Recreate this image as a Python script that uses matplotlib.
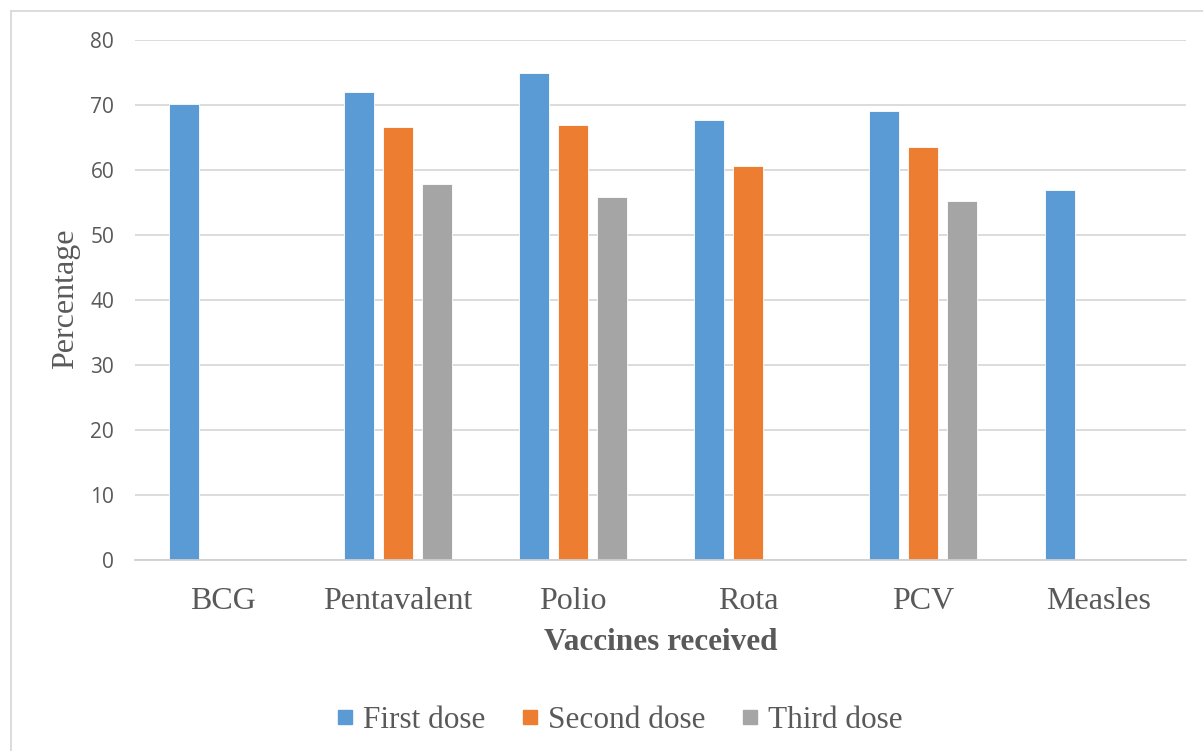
import matplotlib
matplotlib.use("Agg")
import matplotlib.pyplot as plt
import numpy as np
from matplotlib.lines import Line2D

categories = ["BCG", "Pentavalent", "Polio", "Rota", "PCV", "Measles"]
series_names = ["First dose", "Second dose", "Third dose"]
first_dose = [70.2, 72.1, 75.0, 67.7, 69.1, 57.0]
second_dose = [0, 66.6, 67.0, 60.6, 63.6, 0]
third_dose = [0, 57.8, 55.8, 0, 55.2, 0]
y_ticks = [0, 10, 20, 30, 40, 50, 60, 70, 80]
colors = ["#5B9BD5", "#ED7D31", "#A5A5A5"]

W, H = 1203, 751
fig = plt.figure(figsize=(W / 100, H / 100), dpi=100)
ax = fig.add_axes([135 / W, 1 - 559.7 / H, (1186 - 135) / W, (559.7 - 40.3) / H])

x = np.arange(len(categories))
bw = 0.171
step = 0.222
for i, (vals, name, c) in enumerate(zip([first_dose, second_dose, third_dose], series_names, colors)):
    ax.bar(x + (i - 1) * step, vals, width=bw, color=c, label=name,
           edgecolor="white", linewidth=0.6, zorder=3)

ax.set_xlim(-0.5, len(categories) - 0.5)
ax.set_ylim(0, 80)
ax.set_yticks(y_ticks)
ax.set_yticklabels([str(t) for t in y_ticks], fontfamily="Open Sans", fontsize=15, color="#595959")
ax.set_xticks(x)
ax.set_xticklabels(categories, fontfamily="Liberation Serif", fontsize=23, color="#595959")
ax.tick_params(axis="y", length=0, pad=15)
ax.tick_params(axis="x", length=0, pad=20)

ax.grid(axis="y", color="#D9D9D9", linewidth=1.3, zorder=0)
for s in ["top", "right", "left"]:
    ax.spines[s].set_visible(False)
ax.spines["bottom"].set_color("#D0D0D0")
ax.spines["bottom"].set_linewidth(1.3)
ax.spines["bottom"].set_zorder(4)

fig.text(66 / W, 1 - 299 / H, "Percentage", rotation=90, ha="center", va="center",
         fontfamily="Liberation Serif", fontsize=23, color="#595959")
fig.text(661 / W, 1 - 643 / H, "Vaccines received", ha="center", va="center",
         fontfamily="Liberation Serif", fontsize=22.5, fontweight="bold", color="#595959")

handles = [Line2D([0], [0], marker="s", linestyle="none", markersize=10.5,
                  markerfacecolor=c, markeredgecolor=c) for c in colors]
leg = fig.legend(handles, series_names, loc="center", bbox_to_anchor=(616 / W, 1 - 720 / H),
                 ncol=3, frameon=False, handletextpad=0.1, columnspacing=0.9,
                 handlelength=1.0, prop={"family": "Liberation Serif", "size": 22.5})
for t in leg.get_texts():
    t.set_color("#595959")

# outer chart border (top and left visible)
fig.add_artist(Line2D([11 / W, 1.0], [1 - 11 / H, 1 - 11 / H], color="#D9D9D9", linewidth=1.3,
                      transform=fig.transFigure))
fig.add_artist(Line2D([11 / W, 11 / W], [1 - 11 / H, 0.0], color="#D9D9D9", linewidth=1.3,
                      transform=fig.transFigure))

fig.savefig("out.png", dpi=100)
